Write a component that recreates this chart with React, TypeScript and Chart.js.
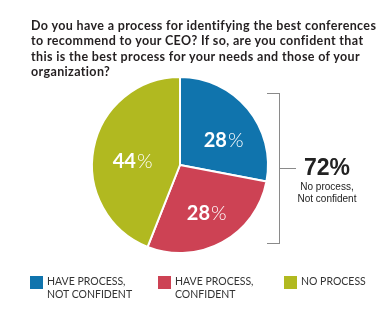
import React, { useEffect, useRef } from "react";
import { Chart, registerables } from "chart.js";

Chart.register(...registerables);

const categories = ["HAVE PROCESS, NOT CONFIDENT", "HAVE PROCESS, CONFIDENT", "NO PROCESS"];
const legendLines = [["HAVE PROCESS,", "NOT CONFIDENT"], ["HAVE PROCESS,", "CONFIDENT"], ["NO PROCESS"]];
const values = [28, 28, 44];
const colors = ["#1074ad", "#cd4254", "#b1b920"];
const titleLines = [
  "Do you have a process for identifying the best conferences",
  "to recommend to your CEO? If so, are you confident that",
  "this is the best process for your needs and those of your",
  "organization?",
];
const bracketValue = "72%";
const bracketLines = ["No process,", "Not confident"];

const labelAngleShift = [10, 0, -7];
const labelRadiusFrac = [0.57, 0.63, 0.54];

const sliceLabels = {
  id: "sliceLabels",
  afterDatasetsDraw(chart: any) {
    const ctx = chart.ctx;
    const meta = chart.getDatasetMeta(0);
    meta.data.forEach((arc: any, i: number) => {
      const p = arc.getProps(["x", "y", "startAngle", "endAngle", "outerRadius"], true);
      const mid = (p.startAngle + p.endAngle) / 2 + (labelAngleShift[i] * Math.PI) / 180;
      const rr = p.outerRadius * labelRadiusFrac[i];
      const cx = p.x + Math.cos(mid) * rr;
      const cy = p.y + Math.sin(mid) * rr;
      const num = String(values[i]);
      ctx.save();
      ctx.fillStyle = "#ffffff";
      ctx.textBaseline = "middle";
      ctx.textAlign = "left";
      const f1 = "bold 20px Lato";
      const f2 = "300 20px Lato";
      ctx.font = f1;
      const w1 = ctx.measureText(num).width;
      ctx.font = f2;
      const w2 = ctx.measureText("%").width;
      const x0 = cx - (w1 + w2 + 1) / 2;
      ctx.font = f1;
      ctx.fillText(num, x0, cy);
      ctx.font = f2;
      ctx.fillText("%", x0 + w1 + 1, cy);
      ctx.restore();
    });
  },
};

export default function App() {
  const ref = useRef<HTMLCanvasElement | null>(null);
  useEffect(() => {
    if (!ref.current) return;
    const chart = new Chart(ref.current, {
      type: "pie",
      data: {
        labels: categories,
        datasets: [
          {
            data: values,
            backgroundColor: colors,
            borderColor: "#ffffff",
            borderWidth: 2,
          },
        ],
      },
      options: {
        responsive: false,
        animation: false,
        events: [],
        layout: { padding: { left: 91, right: 114, top: 76, bottom: 61 } },
        plugins: {
          legend: { display: false },
          tooltip: { enabled: false },
          title: { display: false },
        },
      },
      plugins: [sliceLabels],
    });
    return () => chart.destroy();
  }, []);

  const legendX = [30, 158, 284];
  return (
    <div style={{ position: "absolute", left: 0, top: 0, width: 383, height: 315, background: "#fff", overflow: "hidden" }}>
      <canvas ref={ref} width={383} height={315} style={{ position: "absolute", left: 0, top: 0 }} />
      <div
        style={{
          position: "absolute",
          left: 31,
          top: 18,
          whiteSpace: "nowrap",
          fontFamily: "Lato",
          fontWeight: 700,
          fontSize: 12.5,
          letterSpacing: "0.36px",
          lineHeight: "15.4px",
          color: "#231f20",
        }}
      >
        {titleLines.map((l, i) => (
          <div key={i}>{l}</div>
        ))}
      </div>
      {/* bracket */}
      <div style={{ position: "absolute", left: 267, top: 93, width: 13, height: 151, borderTop: "1.5px solid #8a8a8a", borderRight: "1.5px solid #8a8a8a", borderBottom: "1.5px solid #8a8a8a", boxSizing: "border-box" }} />
      <div style={{ position: "absolute", left: 280, top: 168, width: 16, height: 0, borderTop: "1.5px solid #8a8a8a" }} />
      <div style={{ position: "absolute", left: 296, top: 153, width: 62, textAlign: "center", fontFamily: "'Liberation Sans', Arial", color: "#222" }}>
        <div style={{ fontWeight: 700, fontSize: 23, lineHeight: "28px" }}>{bracketValue}</div>
        {bracketLines.map((l, i) => (
          <div key={i} style={{ fontSize: 10, lineHeight: "12px" }}>{l}</div>
        ))}
      </div>
      {/* legend */}
      {legendLines.map((lines, i) => (
        <div key={i} style={{ position: "absolute", left: legendX[i], top: 276, display: "flex", alignItems: "flex-start" }}>
          <div style={{ width: 13, height: 13, background: colors[i], flex: "none" }} />
          <div style={{ marginLeft: 4, fontFamily: "Lato", fontSize: 10.5, lineHeight: "13px", color: "#333", marginTop: -1 }}>
            {lines.map((l, j) => (
              <div key={j}>{l}</div>
            ))}
          </div>
        </div>
      ))}
    </div>
  );
}
